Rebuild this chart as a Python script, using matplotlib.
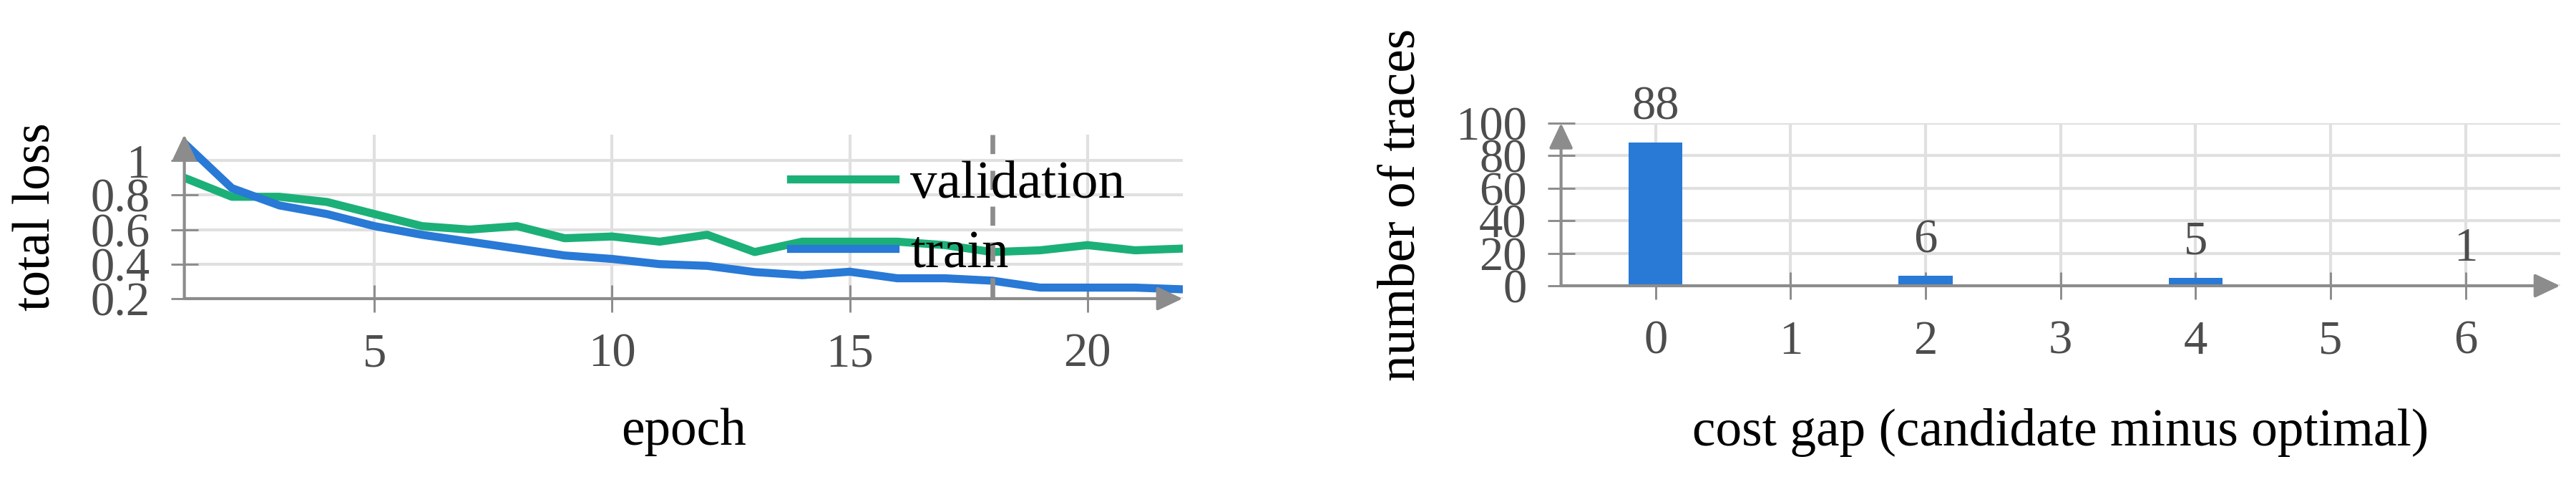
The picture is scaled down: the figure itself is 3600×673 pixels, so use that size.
import numpy as np
import matplotlib
matplotlib.use('Agg')
import matplotlib.pyplot as plt

plt.rcParams['font.family'] = ['Liberation Serif', 'DejaVu Serif']

# loss curves
epochs = np.arange(1, 23)
train_loss = [1.10, 0.84, 0.74, 0.69, 0.62, 0.57, 0.53, 0.49, 0.45, 0.43, 0.40,
              0.39, 0.354, 0.336, 0.356, 0.318, 0.318, 0.304, 0.264, 0.264, 0.264, 0.254]
val_loss = [0.90, 0.79, 0.79, 0.76, 0.69, 0.62, 0.60, 0.62, 0.55, 0.56, 0.53,
            0.57, 0.47, 0.53, 0.53, 0.53, 0.51, 0.47, 0.48, 0.51, 0.48, 0.49]
best_epoch = 18

# cost gap histogram
gap_values = [0, 2, 4, 6]
n_traces = [88, 6, 5, 1]

BLUE = '#2979d6'
GREEN = '#1bb077'
AXIS = '#8c8c8c'
GRID = '#e0e0e0'
TICKTXT = '#4d4d4d'
FS = 17.6


def style_axes(ax):
    for s in ax.spines.values():
        s.set_visible(False)
    ax.set_axisbelow(True)
    ax.grid(True, color=GRID, lw=1.0)
    ax.tick_params(direction='inout', length=9, width=0.7, color=AXIS,
                   labelcolor=TICKTXT, labelsize=16, pad=7)
    arrow = dict(arrowstyle='-|>,head_length=0.36,head_width=0.17',
                 color=AXIS, lw=1.0, shrinkA=0, shrinkB=0, mutation_scale=20)
    ax.annotate('', xy=(1, 0), xytext=(0, 0), xycoords='axes fraction',
                arrowprops=arrow, zorder=5, annotation_clip=False)
    ax.annotate('', xy=(0, 1), xytext=(0, 0), xycoords='axes fraction',
                arrowprops=arrow, zorder=5, annotation_clip=False)


fig = plt.figure(figsize=(12, 673 / 300), dpi=300)

# left: training curves
ax1 = fig.add_axes([0.07156, 0.3804, 0.3875, 0.3403])
style_axes(ax1)
ax1.plot(epochs, val_loss, color=GREEN, lw=2.7, label='validation', zorder=3)
ax1.plot(epochs, train_loss, color=BLUE, lw=2.7, label='train', zorder=3)
ax1.plot([best_epoch, best_epoch], [1.15, 0.2], color=AXIS, lw=1.6,
         linestyle=(0, (4.0, 3.5)), zorder=4)
ax1.set_xlim(1, 22)
ax1.set_ylim(0.2, 1.15)
ax1.set_xticks([5, 10, 15, 20])
ax1.set_yticks([0.2, 0.4, 0.6, 0.8, 1.0])
ax1.set_yticklabels(['0.2', '0.4', '0.6', '0.8', '1'])
ax1.set_xlabel('epoch', fontsize=FS)
ax1.set_ylabel('total loss', fontsize=FS)
ax1.xaxis.set_label_coords(0.5, -0.668)
ax1.yaxis.set_label_coords(-0.1237, 0.5)
leg = ax1.legend(loc='center left', bbox_to_anchor=(0.6075, 0.4825),
                 frameon=False, borderpad=0, borderaxespad=0, handlelength=1.95,
                 handletextpad=0.28, labelspacing=0.38, fontsize=FS + 0.4)
leg.set_zorder(10)

# right: cost gap histogram
ax2 = fig.add_axes([0.6060, 0.4071, 0.3878, 0.3377])
style_axes(ax2)
bars = ax2.bar(gap_values, n_traces, width=0.4, color=BLUE, zorder=3)
ax2.bar_label(bars, padding=4.5, fontsize=16, color=TICKTXT)
ax2.set_xlim(-0.7, 6.7)
ax2.set_ylim(0, 100)
ax2.set_xticks(range(7))
ax2.set_yticks([0, 20, 40, 60, 80, 100])
ax2.set_xlabel('cost gap (candidate minus optimal)', fontsize=FS)
ax2.set_ylabel('number of traces', fontsize=FS)
ax2.xaxis.set_label_coords(0.5, -0.752)
ax2.yaxis.set_label_coords(-0.1358, 0.5)

fig.savefig('out.png', dpi=300)
